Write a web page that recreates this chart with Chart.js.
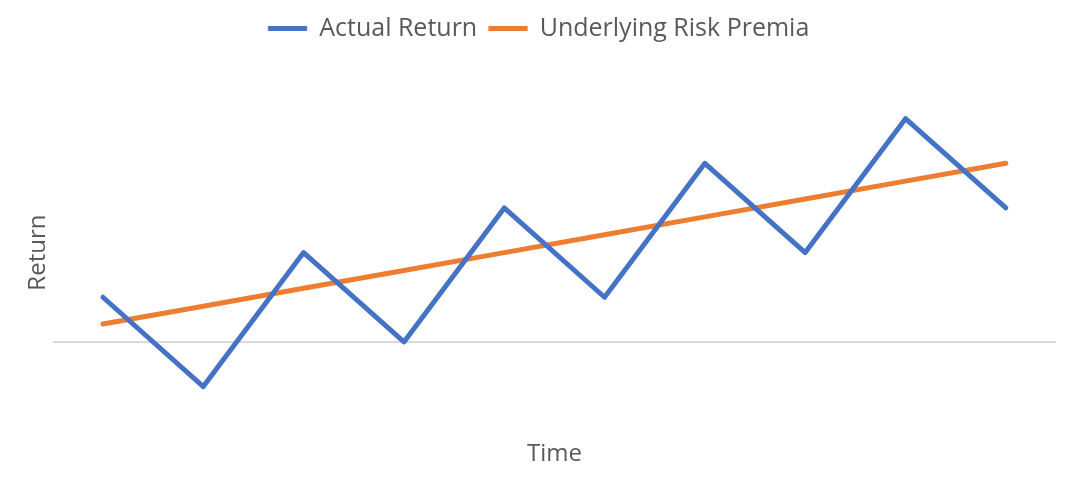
<!DOCTYPE html>
<html>
<head>
<meta charset="utf-8">
<script src="https://cdn.jsdelivr.net/npm/chart.js@4.4.1/dist/chart.umd.min.js"></script>
<style>
html,body{margin:0;padding:0;background:#fff;}
#wrap{width:1069px;height:486px;}
</style>
</head>
<body>
<div id="wrap"><canvas id="c" width="1069" height="486"></canvas></div>
<script>
const categories = ['1','2','3','4','5','6','7','8','9','10'];
const actualReturn = [1, -1, 2, 0, 3, 1, 4, 2, 5, 3];
const riskPremia = [0.4, 0.8, 1.2, 1.6, 2.0, 2.4, 2.8, 3.2, 3.6, 4.0];
const seriesNames = ['Actual Return', 'Underlying Risk Premia'];
const xTitle = 'Time';
const yTitle = 'Return';

const FONT = "'Open Sans', 'Liberation Sans', sans-serif";
const TXT = '#595959';

const legendSpacer = {
  id: 'legendSpacer',
  beforeInit(chart) {
    const origFit = chart.legend.fit;
    chart.legend.fit = function() {
      origFit.call(this);
      this.height += 23;
    };
  }
};

new Chart(document.getElementById('c'), {
  type: 'line',
  data: {
    labels: categories,
    datasets: [
      {label: seriesNames[0], data: actualReturn, borderColor: '#4472C4', backgroundColor: '#4472C4',
       borderWidth: 5, pointRadius: 0, pointHoverRadius: 0, tension: 0, borderCapStyle: 'round', borderJoinStyle: 'round'},
      {label: seriesNames[1], data: riskPremia, borderColor: '#ED7D31', backgroundColor: '#ED7D31',
       borderWidth: 5, pointRadius: 0, pointHoverRadius: 0, tension: 0, borderCapStyle: 'round', borderJoinStyle: 'round'}
    ]
  },
  plugins: [legendSpacer],
  options: {
    responsive: false,
    animation: false,
    events: [],
    layout: {padding: {left: 22, right: 13, top: 4, bottom: 17}},
    plugins: {
      tooltip: {enabled: false},
      legend: {
        position: 'top',
        labels: {
          color: TXT,
          font: {family: FONT, size: 25},
          boxWidth: 38,
          boxHeight: 4,
          padding: 12,
          generateLabels: function(chart) {
            const items = Chart.defaults.plugins.legend.labels.generateLabels(chart);
            items.forEach(it => { it.lineWidth = 1; it.lineCap = 'round'; });
            return items;
          }
        }
      }
    },
    scales: {
      x: {
        offset: true,
        grid: {display: false},
        border: {display: false},
        ticks: {display: false},
        title: {display: true, text: xTitle, color: TXT, font: {family: FONT, size: 24}, padding: {top: 1, bottom: 0}}
      },
      y: {
        min: -2, max: 6,
        grid: {
          color: ctx => (ctx.tick && ctx.tick.value === 0) ? '#D9D9D9' : 'rgba(0,0,0,0)',
          lineWidth: 2,
          drawTicks: false
        },
        border: {display: false},
        ticks: {display: false, stepSize: 1},
        title: {display: true, text: yTitle, color: TXT, font: {family: FONT, size: 24}, padding: {top: 2, bottom: 0}}
      }
    }
  }
});
</script>
</body>
</html>
